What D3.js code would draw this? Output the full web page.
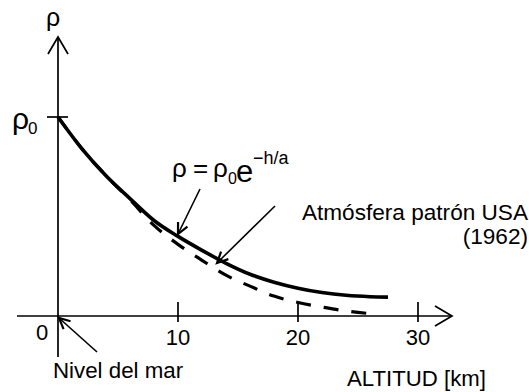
<!DOCTYPE html>
<html><head><meta charset="utf-8">
<script src="https://cdn.jsdelivr.net/npm/d3@7"></script>
<style>
html,body{margin:0;padding:0;background:#fff;}
svg{display:block;font-family:"Liberation Sans",Arial,sans-serif;}
</style></head>
<body>
<svg id="c" width="529" height="392"></svg>
<script>
// altitude (km) and density ratio rho/rho0
const altitudes = [0, 2, 4, 6, 8, 10, 12, 14, 16, 18, 20, 22, 24, 26, 27.5];
const expModel  = [1.00, 0.84, 0.705, 0.59, 0.48, 0.40, 0.33, 0.265, 0.21, 0.17, 0.14, 0.118, 0.104, 0.097, 0.095];
const usaAltitudes = [0, 2, 4, 6, 8, 10, 12, 14, 16, 18, 20, 22, 24, 26];
const usaStandard  = [1.00, 0.84, 0.705, 0.585, 0.455, 0.36, 0.28, 0.205, 0.15, 0.10, 0.068, 0.045, 0.025, 0.012];
const xTicks = [10, 20, 30];
const xTickLabels = ["10", "20", "30"];

const svg = d3.select("#c");
const x = d3.scaleLinear().domain([0, 30]).range([58, 418]);
const y = d3.scaleLinear().domain([0, 1]).range([316, 117]);
const ink = "#000";

// axes
svg.append("line").attr("x1", 17).attr("x2", 452).attr("y1", y(0)).attr("y2", y(0))
  .attr("stroke", ink).attr("stroke-width", 1.7);
svg.append("polyline").attr("points", `435,306 452,${y(0)} 435,326`)
  .attr("fill", "none").attr("stroke", ink).attr("stroke-width", 1.7);
svg.append("line").attr("x1", x(0)).attr("x2", x(0)).attr("y1", 37).attr("y2", 357)
  .attr("stroke", ink).attr("stroke-width", 1.7);
svg.append("polyline").attr("points", `48,54 ${x(0)},37 68,54`)
  .attr("fill", "none").attr("stroke", ink).attr("stroke-width", 1.7);

// x ticks
svg.selectAll(".tick").data(xTicks).enter().append("line")
  .attr("x1", d => x(d)).attr("x2", d => x(d)).attr("y1", y(0) - 14).attr("y2", y(0) + 6)
  .attr("stroke", ink).attr("stroke-width", 1.7);
svg.selectAll(".tl").data(xTicks).enter().append("text")
  .attr("x", d => x(d)).attr("y", 345).attr("text-anchor", "middle")
  .attr("font-size", 22).text((d, i) => xTickLabels[i]);
svg.append("text").attr("x", 42).attr("y", 340).attr("text-anchor", "middle")
  .attr("font-size", 22).text("0");

// rho0 tick
svg.append("line").attr("x1", 47).attr("x2", 68).attr("y1", y(1)).attr("y2", y(1))
  .attr("stroke", ink).attr("stroke-width", 1.7);

// curves
const line = d3.line().x(d => x(d[0])).y(d => y(d[1])).curve(d3.curveMonotoneX);
svg.append("path").datum(usaAltitudes.map((h, i) => [h, usaStandard[i]]))
  .attr("d", line).attr("fill", "none").attr("stroke", ink).attr("stroke-width", 3.2)
  .attr("stroke-dasharray", "15,13");
svg.append("path").datum(altitudes.map((h, i) => [h, expModel[i]]))
  .attr("d", line).attr("fill", "none").attr("stroke", ink).attr("stroke-width", 3.6);

// labels
svg.append("text").attr("x", 53).attr("y", 26).attr("text-anchor", "middle").attr("font-size", 25).text("ρ");
svg.append("text").attr("x", 12).attr("y", 129).attr("font-size", 30).text("ρ");
svg.append("text").attr("x", 28).attr("y", 134).attr("font-size", 17).text("0");

// formula
svg.append("text").attr("x", 172).attr("y", 177).attr("font-size", 26).text("ρ");
svg.append("text").attr("x", 193).attr("y", 177).attr("font-size", 26).text("=");
svg.append("text").attr("x", 213).attr("y", 177).attr("font-size", 26).text("ρ");
svg.append("text").attr("x", 228).attr("y", 184).attr("font-size", 16).text("0");
svg.append("text").attr("x", 236).attr("y", 182).attr("font-size", 31).text("e");
svg.append("text").attr("x", 253).attr("y", 164).attr("font-size", 18).text("−h/a");

svg.append("text").attr("x", 528).attr("y", 220).attr("text-anchor", "end").attr("font-size", 22.6).text("Atmósfera patrón USA");
svg.append("text").attr("x", 528).attr("y", 244).attr("text-anchor", "end").attr("font-size", 22.6).text("(1962)");
svg.append("text").attr("x", 53).attr("y", 378).attr("font-size", 22.3).text("Nivel del mar");
svg.append("text").attr("x", 347).attr("y", 386).attr("font-size", 22.2).text("ALTITUD [km]");

// annotation arrows
function arrow(x1, y1, x2, y2) {
  svg.append("line").attr("x1", x1).attr("y1", y1).attr("x2", x2).attr("y2", y2)
    .attr("stroke", ink).attr("stroke-width", 1.6);
  const a = Math.atan2(y2 - y1, x2 - x1), L = 12, w = 0.45;
  const p1 = [x2 - L * Math.cos(a - w), y2 - L * Math.sin(a - w)];
  const p2 = [x2 - L * Math.cos(a + w), y2 - L * Math.sin(a + w)];
  svg.append("polyline").attr("points", `${p1} ${x2},${y2} ${p2}`)
    .attr("fill", "none").attr("stroke", ink).attr("stroke-width", 2.2);
}
arrow(200, 189, 178, 234);
arrow(275, 206, 217, 263);
arrow(97, 352, 59, 318);
</script>
</body></html>
